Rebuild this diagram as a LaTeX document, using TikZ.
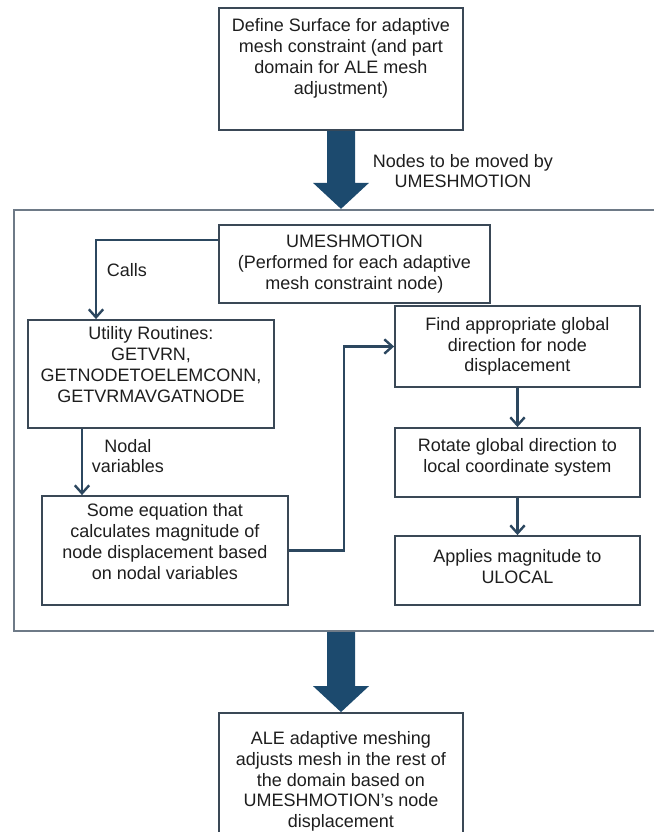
\documentclass[tikz,border=0pt]{standalone}
\usepackage{fontspec}
\setmainfont{Liberation Sans}
\usetikzlibrary{arrows.meta,calc}
\definecolor{boxline}{HTML}{3A4856}
\definecolor{framegray}{HTML}{6E7A87}
\definecolor{arrowblue}{HTML}{1C4A6E}
\definecolor{connblue}{HTML}{2C475F}
\definecolor{txt}{HTML}{1E1E1E}
\newcommand{\fatarrow}[2]{%
  \fill[arrowblue] ($(#1)+(-0.35,0)$) -- ($(#2)+(-0.35,0.65)$) -- ($(#2)+(-0.7,0.65)$) -- (#2)
    -- ($(#2)+(0.7,0.65)$) -- ($(#2)+(0.35,0.65)$) -- ($(#1)+(0.35,0)$) -- cycle;}

\begin{document}
\begin{tikzpicture}[>={Straight Barb[length=2mm,width=3.6mm]},
    box/.style={draw=boxline,line width=1.3pt,align=center,inner sep=0pt,text=txt,font=\fontsize{12.8}{14.8}\selectfont},
    lbl/.style={align=center,text=txt,font=\fontsize{12.8}{14.8}\selectfont},
    conn/.style={->,draw=connblue,line width=1.7pt}]
	\useasboundingbox (0,0) rectangle (16.35,20.8);
	\node[draw=framegray,line width=1.6pt,minimum width=16.275cm,minimum height=10.525cm] (frame) at (8.4875,10.2875) {};
	\node[box,minimum width=6.1cm,minimum height=3.05cm] (def) at (8.525,19.075) {Define Surface for adaptive\\mesh constraint (and part\\domain for ALE mesh\\adjustment)\\[3pt]};
	\node[box,minimum width=6.775cm,minimum height=1.95cm] (umesh) at (8.8625,14.2) {UMESHMOTION\\(Performed for each adaptive\\mesh constraint node)};
	\node[box,minimum width=6.15cm,minimum height=2.7cm] (util) at (3.775,11.45) {Utility Routines:\\GETVRN,\\GETNODETOELEMCONN,\\GETVRMAVGATNODE\\[-1pt]};
	\node[box,minimum width=6.15cm,minimum height=2.725cm] (eq) at (4.125,7.0375) {Some equation that\\calculates magnitude of\\node displacement based\\on nodal variables\\[-2pt]};
	\node[box,minimum width=6.125cm,minimum height=2.025cm] (find) at (12.9375,12.1375) {Find appropriate global\\direction for node\\displacement};
	\node[box,minimum width=6.125cm,minimum height=1.725cm] (rot) at (12.9375,9.2375) {Rotate global direction to\\local coordinate system\\[-4.8pt]};
	\node[box,minimum width=6.125cm,minimum height=1.725cm] (appl) at (12.9375,6.5375) {Applies magnitude to\\ULOCAL\\[-9pt]};
	\node[box,minimum width=6.1cm,minimum height=3.425cm] (ale) at (8.525,1.2625) {ALE adaptive meshing\\adjusts mesh in the rest of\\the domain based on\\UMESHMOTION's node\\displacement};
	\coordinate (tipa) at (def.south |- frame.north);
	\coordinate (tipb) at (def.south |- ale.north);
	\coordinate (startb) at (def.south |- frame.south);
	\fatarrow{def.south}{tipa}
	\fatarrow{startb}{tipb}
	\node[lbl] (moved) at (11.575,16.525) {Nodes to be moved by\\UMESHMOTION};
	\draw[conn] ([yshift=0.6cm]umesh.west) -| ([xshift=-1.375cm]util.north);
	\node[lbl,anchor=west] (calls) at (2.55,14.05) {Calls};
	\draw[conn] ([xshift=-1.725cm]util.south) -- ([xshift=-1.725cm]util.south |- eq.north);
	\node[lbl] (nodal) at (3.2,9.4) {Nodal\\variables};
	\draw[conn] (eq.east) -- ++(1.375,0) |- (find.west);
	\draw[conn] (find) -- (rot);
	\draw[conn] (rot) -- (appl);
\end{tikzpicture}
\end{document}
